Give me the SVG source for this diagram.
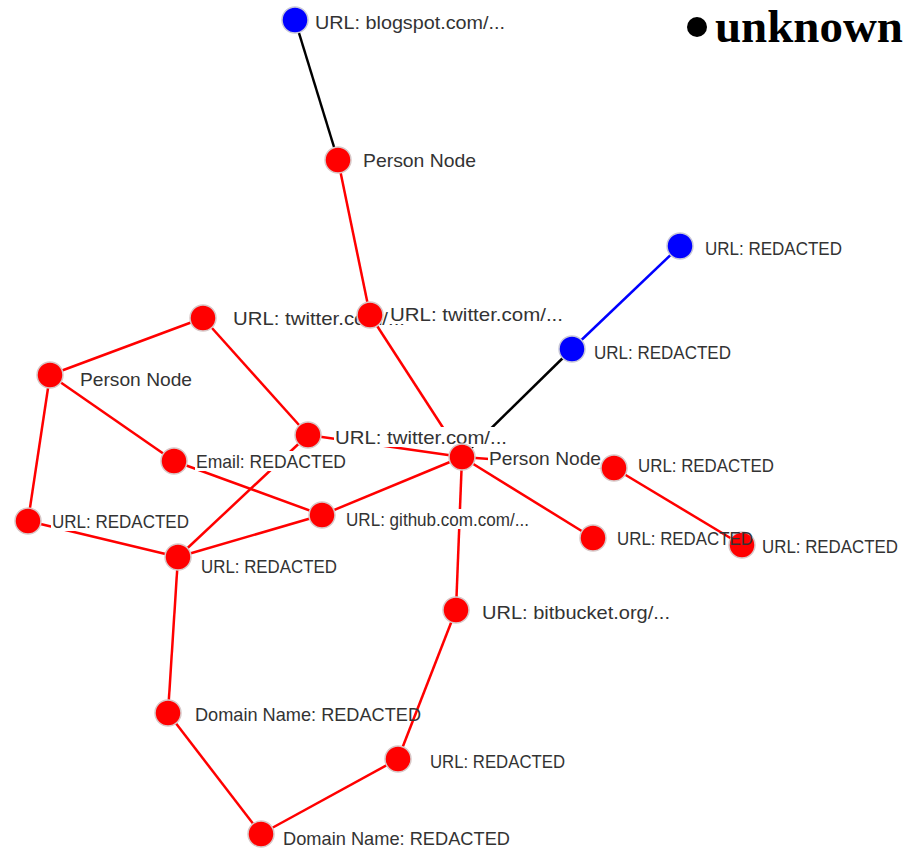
<svg xmlns="http://www.w3.org/2000/svg" width="905" height="849" viewBox="0 0 905 849">
<style>
.e{stroke:#ff0000;stroke-width:2.5;fill:none}
.k{stroke:#000000}
.b{stroke:#0000ff}
.n{fill:#ff0000;stroke:#d8c8c8;stroke-width:1.5}
.nb{fill:#0000ff;stroke:#c8c8d8;stroke-width:1.5}
.bg{fill:#ffffff}
.t{font-family:"Liberation Sans",Arial,sans-serif;font-size:18.5px;fill:#333333}
.lg{font-family:"Liberation Serif","Times New Roman",serif;font-size:46px;font-weight:bold;fill:#000000}
</style>
<rect width="905" height="849" fill="#ffffff"/>
<g id="connectors">
<line class="e k" x1="295" y1="20" x2="338" y2="160"/>
<line class="e" x1="338" y1="160" x2="370" y2="315"/>
<line class="e" x1="370" y1="315" x2="462" y2="457"/>
<line class="e b" x1="680" y1="246" x2="572" y2="349"/>
<line class="e k" x1="572" y1="349" x2="462" y2="457"/>
<line class="e" x1="203" y1="318" x2="50" y2="375"/>
<line class="e" x1="203" y1="318" x2="308" y2="435"/>
<line class="e" x1="308" y1="435" x2="462" y2="457"/>
<line class="e" x1="50" y1="375" x2="174" y2="461"/>
<line class="e" x1="50" y1="375" x2="28" y2="521"/>
<line class="e" x1="174" y1="461" x2="322" y2="515"/>
<line class="e" x1="28" y1="521" x2="178" y2="557"/>
<line class="e" x1="178" y1="557" x2="322" y2="515"/>
<line class="e" x1="178" y1="557" x2="308" y2="435"/>
<line class="e" x1="178" y1="557" x2="168" y2="713"/>
<line class="e" x1="322" y1="515" x2="462" y2="457"/>
<line class="e" x1="462" y1="457" x2="614" y2="468"/>
<line class="e" x1="614" y1="468" x2="742" y2="545"/>
<line class="e" x1="462" y1="457" x2="593" y2="538"/>
<line class="e" x1="462" y1="457" x2="456" y2="610"/>
<line class="e" x1="456" y1="610" x2="398" y2="759"/>
<line class="e" x1="398" y1="759" x2="261" y2="834"/>
<line class="e" x1="168" y1="713" x2="261" y2="834"/>
</g>
<g id="legend">
<circle cx="697" cy="27" r="10" fill="#000000"/>
<text class="lg" x="715" y="42" textLength="188" lengthAdjust="spacingAndGlyphs">unknown</text>
</g>
<g id="n1"><circle class="nb" cx="295" cy="20" r="13"/><rect class="bg" x="314" y="12" width="192" height="20"/><text class="t" x="315" y="29" textLength="190" lengthAdjust="spacingAndGlyphs">URL: blogspot.com/...</text></g>
<g id="n2"><circle class="n" cx="338" cy="160" r="13"/><rect class="bg" x="362" y="150" width="115" height="20"/><text class="t" x="363" y="167" textLength="113" lengthAdjust="spacingAndGlyphs">Person Node</text></g>
<g id="n3"><circle class="nb" cx="680" cy="246" r="13"/><rect class="bg" x="704" y="238" width="139" height="20"/><text class="t" x="705" y="255" textLength="137" lengthAdjust="spacingAndGlyphs">URL: REDACTED</text></g>
<g id="n5"><circle class="n" cx="203" cy="318" r="13"/><rect class="bg" x="226" y="308" width="10" height="20"/><text class="t" x="233" y="325" textLength="172" lengthAdjust="spacingAndGlyphs">URL: twitter.com/...</text></g>
<g id="n4"><circle class="n" cx="370" cy="315" r="13"/><rect class="bg" x="389" y="304" width="175" height="20"/><text class="t" x="390" y="321" textLength="173" lengthAdjust="spacingAndGlyphs">URL: twitter.com/...</text></g>
<g id="n6"><circle class="nb" cx="572" cy="349" r="13"/><rect class="bg" x="593" y="342" width="139" height="20"/><text class="t" x="594" y="359" textLength="137" lengthAdjust="spacingAndGlyphs">URL: REDACTED</text></g>
<g id="n7"><circle class="n" cx="50" cy="375" r="13"/><rect class="bg" x="79" y="369" width="114" height="20"/><text class="t" x="80" y="386" textLength="112" lengthAdjust="spacingAndGlyphs">Person Node</text></g>
<g id="n8"><circle class="n" cx="308" cy="435" r="13"/><rect class="bg" x="334" y="427" width="174" height="20"/><text class="t" x="335" y="444" textLength="172" lengthAdjust="spacingAndGlyphs">URL: twitter.com/...</text></g>
<g id="n9"><circle class="n" cx="174" cy="461" r="13"/><rect class="bg" x="195" y="451" width="152" height="20"/><text class="t" x="196" y="468" textLength="150" lengthAdjust="spacingAndGlyphs">Email: REDACTED</text></g>
<g id="n10"><circle class="n" cx="462" cy="457" r="13"/><rect class="bg" x="488" y="448" width="114" height="20"/><text class="t" x="489" y="465" textLength="112" lengthAdjust="spacingAndGlyphs">Person Node</text></g>
<g id="n11"><circle class="n" cx="614" cy="468" r="13"/><rect class="bg" x="637" y="455" width="138" height="20"/><text class="t" x="638" y="472" textLength="136" lengthAdjust="spacingAndGlyphs">URL: REDACTED</text></g>
<g id="n12"><circle class="n" cx="28" cy="521" r="13"/><rect class="bg" x="51" y="511" width="139" height="20"/><text class="t" x="52" y="528" textLength="137" lengthAdjust="spacingAndGlyphs">URL: REDACTED</text></g>
<g id="n13"><circle class="n" cx="322" cy="515" r="13"/><rect class="bg" x="345" y="509" width="185" height="20"/><text class="t" x="346" y="526" textLength="183" lengthAdjust="spacingAndGlyphs">URL: github.com.com/...</text></g>
<g id="n15"><circle class="n" cx="742" cy="545" r="13"/><rect class="bg" x="761" y="536" width="138" height="20"/><text class="t" x="762" y="553" textLength="136" lengthAdjust="spacingAndGlyphs">URL: REDACTED</text></g>
<g id="n14"><circle class="n" cx="593" cy="538" r="13"/><rect class="bg" x="616" y="528" width="10" height="20"/><text class="t" x="617" y="545" textLength="136" lengthAdjust="spacingAndGlyphs">URL: REDACTED</text></g>
<g id="n16"><circle class="n" cx="178" cy="557" r="13"/><rect class="bg" x="200" y="556" width="138" height="20"/><text class="t" x="201" y="573" textLength="136" lengthAdjust="spacingAndGlyphs">URL: REDACTED</text></g>
<g id="n17"><circle class="n" cx="456" cy="610" r="13"/><rect class="bg" x="481" y="602" width="190" height="20"/><text class="t" x="482" y="619" textLength="188" lengthAdjust="spacingAndGlyphs">URL: bitbucket.org/...</text></g>
<g id="n18"><circle class="n" cx="168" cy="713" r="13"/><rect class="bg" x="194" y="704" width="200" height="20"/><text class="t" x="195" y="721" textLength="226" lengthAdjust="spacingAndGlyphs">Domain Name: REDACTED</text></g>
<g id="n19"><circle class="n" cx="398" cy="759" r="13"/><rect class="bg" x="429" y="751" width="137" height="20"/><text class="t" x="430" y="768" textLength="135" lengthAdjust="spacingAndGlyphs">URL: REDACTED</text></g>
<g id="n20"><circle class="n" cx="261" cy="834" r="13"/><rect class="bg" x="282" y="828" width="229" height="20"/><text class="t" x="283" y="845" textLength="227" lengthAdjust="spacingAndGlyphs">Domain Name: REDACTED</text></g>
</svg>
